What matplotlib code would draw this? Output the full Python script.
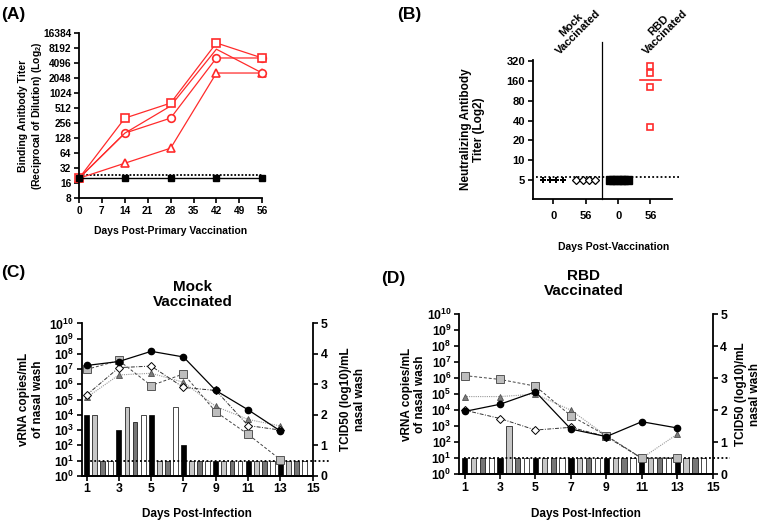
import numpy as np
import matplotlib
matplotlib.use('Agg')
import matplotlib.pyplot as plt
from matplotlib.ticker import NullLocator

plt.rcParams['font.family'] = ['Liberation Sans', 'DejaVu Sans']
plt.rcParams['font.weight'] = 'bold'
plt.rcParams['axes.labelweight'] = 'bold'
plt.rcParams['axes.linewidth'] = 1.3
plt.rcParams['mathtext.fontset'] = 'custom'
plt.rcParams['mathtext.bf'] = 'Liberation Sans:bold'
plt.rcParams['mathtext.rm'] = 'Liberation Sans:bold'
plt.rcParams['mathtext.default'] = 'bf'

RED = '#ff2b2b'

# ---- (A) binding antibody titer ----
a_days = [0, 14, 28, 42, 56]
a_square = [20, 320, 640, 10240, 5120]
a_circle = [20, 160, 320, 5120, 5120]
a_triangle = [20, 40, 80, 2560, 2560]
a_fourth = [20, 160, 560, 7680, 2560]
a_mock = [20, 20, 20, 20, 20]
a_lod = 23
a_yticks = [8, 16, 32, 64, 128, 256, 512, 1024, 2048, 4096, 8192, 16384]

# ---- (B) neutralizing antibody titer ----
b_groups = [0, 1, 2, 3]
b_labels = ['0', '56', '0', '56']
b_mock_d0 = [5, 5, 5, 5]
b_mock_d56 = [5, 5, 5, 5]
b_rbd_d0 = [5, 5, 5, 5, 5, 5]
b_rbd_d56 = [262, 211, 128, 32]
b_rbd_d56_median = 164
b_lod = 5.6
b_yticks = [5, 10, 20, 40, 80, 160, 320]

# ---- (C)/(D) nasal wash, log10 vRNA copies per animal ----
inf_days = [1, 3, 5, 7, 9, 11, 13]
c_circle = [7.24, 7.5, 8.17, 7.8, 5.6, 4.33, 2.94]
c_square = [6.98, 7.57, 5.92, 6.69, 4.2, 2.72, 1.06]
c_diamond = [5.3, 7.1, 7.2, 5.8, 5.6, 3.3, 3.0]
c_triangle = [5.14, 6.62, 6.73, 6.14, 4.55, 3.7, 3.27]
d_circle = [3.92, 4.37, 5.15, 2.82, 2.35, 3.28, 2.89]
d_square = [6.16, 5.92, 5.5, 3.65, 2.41, 1.0, 1.0]
d_diamond = [4.0, 3.48, 2.76, 2.93, 2.35, 1.0, 1.0]
d_triangle = [4.85, 4.85, 5.0, 4.0, 2.4, 1.0, 2.5]

# TCID50 (log10)/mL per animal
c_tcid_black = [2.0, 1.5, 2.0, 1.0, 0.5, 0.5, 0.5]
c_tcid_light = [2.0, 2.25, 0.5, 0.5, 0.5, 0.5, 0.5]
c_tcid_dark = [0.5, 1.75, 0.5, 0.5, 0.5, 0.5, 0.5]
c_tcid_white = [0.5, 2.0, 2.25, 0.5, 0.5, 0.5, 0.5]
d_tcid_black = [0.5, 0.5, 0.5, 0.5, 0.5, 0.5, 0.5]
d_tcid_light = [0.5, 1.5, 0.5, 0.5, 0.5, 0.5, 0.5]
d_tcid_dark = [0.5, 0.5, 0.5, 0.5, 0.5, 0.5, 0.5]
d_tcid_white = [0.5, 0.5, 0.5, 0.5, 0.5, 0.5, 0.5]
vrna_lod = 10

fig = plt.figure(figsize=(7.6, 5.2), dpi=100)


def style_ticks(ax, size):
    ax.tick_params(direction='out', width=1.2, length=3.5, labelsize=size, pad=2)
    for lab in ax.get_xticklabels() + ax.get_yticklabels():
        lab.set_fontweight('bold')


# ================= (A) =================
axA = fig.add_axes([0.104, 0.619, 0.241, 0.318])
kw = dict(color=RED, lw=0.9, mfc='white', mec=RED, mew=1.2, ms=5.5, clip_on=False)
axA.plot(a_days, a_mock, color='black', lw=1.0, marker='s', ms=5, clip_on=False, zorder=3)
axA.axhline(a_lod, color='black', ls=(0, (1, 1)), lw=1.3, zorder=2)
axA.plot(a_days, a_triangle, marker='^', **kw)
axA.plot(a_days, a_circle, marker='o', **kw)
axA.plot(a_days, a_fourth, marker='o', markevery=[4], **kw)
axA.plot(a_days, a_square, marker='s', **kw)
axA.set_yscale('log', base=2)
axA.set_yticks(a_yticks)
axA.set_yticklabels([str(v) for v in a_yticks])
axA.yaxis.set_minor_locator(NullLocator())
axA.set_ylim(8, 16384)
axA.set_xlim(0, 56)
axA.set_xticks(range(0, 57, 7))
for s in ['top', 'right']:
    axA.spines[s].set_visible(False)
style_ticks(axA, 7.3)
axA.set_ylabel('Binding Anitbody Titer\n(Reciprocal of Dilution) (Log$_2$)', fontsize=7.5)
axA.yaxis.set_label_coords(-0.19, 0.5)
axA.set_xlabel('Days Post-Primary Vaccination', fontsize=7.5)
axA.xaxis.set_label_coords(0.5, -0.17)
fig.text(0.002, 0.972, '(A)', fontsize=12.5, fontweight='bold', va='center')

# ================= (B) =================
axB = fig.add_axes([0.701, 0.617, 0.183, 0.268])
axB.set_yscale('log', base=2)
axB.axhline(b_lod, color='black', ls=(0, (1, 1.3)), lw=1.3, xmin=0.02, xmax=1.05, clip_on=False)
axB.plot(b_groups[0] + np.linspace(-0.33, 0.3, len(b_mock_d0)), b_mock_d0, ls='none',
         marker='P', color='black', ms=4.5, mew=0)
axB.plot(b_groups[1] + np.linspace(-0.29, 0.28, len(b_mock_d56)), b_mock_d56, ls='none',
         marker='D', mfc='white', mec='black', ms=4, mew=0.9)
axB.plot(b_groups[2] + np.linspace(-0.26, 0.31, len(b_rbd_d0)), b_rbd_d0, ls='none',
         marker='s', color='black', ms=5.5)
axB.plot([b_groups[3]] * len(b_rbd_d56), b_rbd_d56, ls='none', marker='s', mfc='white',
         mec=RED, ms=5, mew=1.2)
axB.plot([b_groups[3] - 0.33, b_groups[3] + 0.34], [b_rbd_d56_median] * 2, color=RED, lw=1.2)
axB.axvline(1.5, ymin=0, ymax=1.13, color='black', lw=0.9, clip_on=False)
axB.set_yticks(b_yticks)
axB.set_yticklabels([str(v) for v in b_yticks])
axB.yaxis.set_minor_locator(NullLocator())
axB.set_ylim(2.6, 330)
axB.set_xlim(-0.64, 3.66)
axB.set_xticks(b_groups)
axB.set_xticklabels(b_labels)
for s in ['top', 'right']:
    axB.spines[s].set_visible(False)
style_ticks(axB, 8)
axB.tick_params(axis='x', pad=5)
axB.set_ylabel('Neutralizing Antibody\nTiter (Log2)', fontsize=8.5)
axB.yaxis.set_label_coords(-0.34, 0.5)
axB.set_xlabel('Days Post-Vaccination', fontsize=7.5)
axB.xaxis.set_label_coords(0.58, -0.31)
for x, lab in [(0.67, 'Mock\nVaccinated'), (3.35, 'RBD\nVaccinated')]:
    axB.annotate(lab, xy=(x, 1.225), xycoords=('data', 'axes fraction'), rotation=45,
                 ha='center', va='center', fontsize=8, fontweight='bold',
                 annotation_clip=False, linespacing=1.0)
fig.text(0.522, 0.972, '(B)', fontsize=12.5, fontweight='bold', va='center')


# ================= (C) / (D) =================
def infection_panel(rect, title, title_x, lines, tcid, lab_left, lab_right):
    ax = fig.add_axes(rect)
    ax2 = ax.twinx()
    colors = ['black', '#c6c6c6', '#767676', 'white']
    for k, (vals, col) in enumerate(zip(tcid, colors)):
        ax2.bar(np.array(inf_days) + 0.5 * k, vals, width=0.3, color=col,
                edgecolor='black', lw=0.5, align='center')
    ax2.set_ylim(0, 5)
    ax2.set_yticks(range(6))
    ax.set_zorder(ax2.get_zorder() + 1)
    ax.patch.set_visible(False)

    circ, sq, dia, tri = lines
    ax.axhline(vrna_lod, color='black', ls=(0, (1, 1.3)), lw=1.3, xmin=0.02, xmax=1.07,
               clip_on=False, zorder=1)
    ax.plot(inf_days, 10.0 ** np.array(tri), color='#9a9a9a', ls=(0, (1, 1)), lw=0.8,
            marker='^', mfc='#7c7c7c', mec='#505050', ms=5, mew=0.6)
    ax.plot(inf_days, 10.0 ** np.array(dia), color='#333333', ls=(0, (4, 1.5, 1, 1.5)), lw=0.7,
            marker='D', mfc='white', mec='black', ms=4, mew=0.7)
    ax.plot(inf_days, 10.0 ** np.array(sq), color='#444444', ls=(0, (3, 2)), lw=0.7,
            marker='s', mfc='#bdbdbd', mec='#555555', ms=5.5, mew=0.7)
    ax.plot(inf_days, 10.0 ** np.array(circ), color='black', lw=0.9,
            marker='o', mfc='black', mec='black', ms=4.5)
    ax.set_yscale('log')
    ax.set_ylim(1, 1e10)
    ax.set_yticks([10.0 ** k for k in range(11)])
    ax.set_yticklabels(['$10^{%d}$' % k for k in range(11)])
    ax.yaxis.set_minor_locator(NullLocator())
    ax.set_xlim(0.7, 15)
    ax.set_xticks(range(1, 16, 2))
    for a in (ax, ax2):
        a.spines['top'].set_visible(False)
    ax.spines['right'].set_visible(False)
    ax2.spines['left'].set_visible(False)
    ax2.spines['right'].set_linewidth(1.3)
    style_ticks(ax, 8.8)
    style_ticks(ax2, 8.8)
    ax.set_ylabel('vRNA copies/mL\nof nasal wash', fontsize=8.5)
    ax.yaxis.set_label_coords(lab_left, 0.5)
    ax2.set_ylabel('TCID50 (log10)/mL\nnasal wash', fontsize=8.5, rotation=90)
    ax2.yaxis.set_label_coords(lab_right, 0.5)
    ax.set_xlabel('Days Post-Infection', fontsize=8.5)
    ax.xaxis.set_label_coords(0.5, -0.21)
    ax.text(title_x, 1.19, title, transform=ax.transAxes, ha='center', va='center',
            fontsize=11, fontweight='bold', linespacing=1.05)
    return ax


infection_panel([0.1075, 0.085, 0.304, 0.293], 'Mock\nVaccinated', 0.48,
                (c_circle, c_square, c_diamond, c_triangle),
                (c_tcid_black, c_tcid_light, c_tcid_dark, c_tcid_white), -0.165, 1.12)
infection_panel([0.6043, 0.088, 0.3334, 0.308], 'RBD\nVaccinated', 0.49,
                (d_circle, d_square, d_diamond, d_triangle),
                (d_tcid_black, d_tcid_light, d_tcid_dark, d_tcid_white), -0.13, 1.09)
fig.text(0.002, 0.475, '(C)', fontsize=12.5, fontweight='bold', va='center')
fig.text(0.502, 0.465, '(D)', fontsize=12.5, fontweight='bold', va='center')

fig.savefig('out.png', dpi=100)
